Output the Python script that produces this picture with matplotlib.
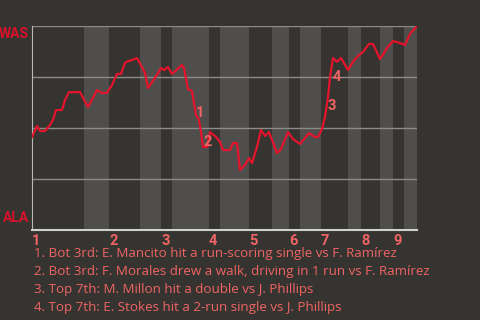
import matplotlib.pyplot as plt

# game progress (plays, arbitrary units) and WAS win probability
progress = [0, 5, 8, 13, 18, 21, 24, 30, 33, 37, 48, 56, 65, 70, 75, 80, 85, 89,
            93, 96, 100, 105, 113, 116, 125, 129, 132, 136, 140, 150, 152, 156,
            160, 164, 167, 169, 171, 175, 178, 184, 188, 191, 198, 201, 205, 208,
            213, 217, 220, 225, 229, 233, 237, 245, 249, 256, 261, 268, 273, 277,
            283, 286, 290, 293, 296, 298, 301, 305, 309, 316, 321, 326, 331, 337,
            341, 348, 355, 361, 368, 373, 378, 385]
win_prob = [0.456, 0.510, 0.485, 0.485, 0.515, 0.539, 0.588, 0.588, 0.637, 0.676,
            0.676, 0.603, 0.686, 0.672, 0.672, 0.711, 0.765, 0.765, 0.819, 0.828,
            0.833, 0.843, 0.770, 0.696, 0.760, 0.794, 0.784, 0.799, 0.765, 0.809,
            0.794, 0.691, 0.681, 0.564, 0.539, 0.480, 0.407, 0.407, 0.480, 0.456,
            0.431, 0.392, 0.392, 0.426, 0.426, 0.294, 0.319, 0.353, 0.328, 0.407,
            0.490, 0.461, 0.480, 0.377, 0.397, 0.480, 0.446, 0.422, 0.451, 0.475,
            0.456, 0.456, 0.495, 0.554, 0.652, 0.750, 0.843, 0.824, 0.843, 0.784,
            0.824, 0.853, 0.873, 0.912, 0.912, 0.838, 0.892, 0.926, 0.917, 0.907,
            0.961, 1.0]

# half-inning boundaries (top 1st start ... end of game)
half_innings = [0, 52, 77, 108, 129, 140, 177, 188, 217, 240, 257, 268, 289,
                316, 329, 348, 361, 372, 385]
inning_labels = ['1', '2', '3', '4', '5', '6', '7', '8', '9']

# key plays: marker label, position, probability
key_labels = ['1', '2', '3', '4']
key_x = [168, 176, 300, 305]
key_y = [0.574, 0.431, 0.608, 0.75]
notes = [
    '1. Bot 3rd: E. Mancito hit a run-scoring single vs F. Ramírez',
    '2. Bot 3rd: F. Morales drew a walk, driving in 1 run vs F. Ramírez',
    '3. Top 7th: M. Millon hit a double vs J. Phillips',
    '4. Top 7th: E. Stokes hit a 2-run single vs J. Phillips',
]

bg = '#363430'
pink = '#f06464'
red = '#e3142b'

plt.rcParams['font.family'] = ['Roboto', 'DejaVu Sans']
fig = plt.figure(figsize=(4.8, 3.2), dpi=100, facecolor=bg)
ax = fig.add_axes([32/480, 1 - 230/320, 385/480, 204/320])
ax.set_facecolor(bg)

# shade bottom halves
for i in range(1, len(half_innings) - 1, 2):
    ax.axvspan(half_innings[i], half_innings[i + 1], color='#4f4e4c', lw=0, zorder=0)

for g in [0.25, 0.5, 0.75, 1.0]:
    ax.axhline(g, color='#8c8b88', lw=1, zorder=1)

ax.plot(progress, win_prob, color=red, lw=1.6, zorder=3)

for lab, x, y in zip(key_labels, key_x, key_y):
    ax.text(x, y, lab, color=pink, fontsize=10.5, fontweight='bold',
            ha='center', va='center', zorder=4)

ax.set_xlim(half_innings[0], half_innings[-1])
ax.set_ylim(0, 1)
ax.set_yticks([])
ax.set_xticks(half_innings[0:-1:2])
ax.set_xticklabels(inning_labels, color=pink, fontsize=10.5, fontweight='bold', ha='left')
ax.tick_params(axis='x', length=0, pad=3)

for s in ['top', 'right']:
    ax.spines[s].set_visible(False)
ax.spines['left'].set_color('#b8b8b8')
ax.spines['bottom'].set_color('#d0d0d0')
ax.spines['bottom'].set_linewidth(1.5)

ax.text(-0.008, 0.995, 'WAS', transform=ax.transAxes, color='#d9112a',
        fontsize=10, fontweight='bold', ha='right', va='top')
ax.text(-0.008, 0.025, 'ALA', transform=ax.transAxes, color='#d9112a',
        fontsize=10, fontweight='bold', ha='right', va='bottom')

for i, note in enumerate(notes):
    fig.text(34/480, 1 - (254 + 18*i)/320, note, color=pink, fontsize=9.6,
             family=['Open Sans', 'DejaVu Sans'], ha='left', va='center')

fig.savefig('out.png', dpi=100, facecolor=bg)
